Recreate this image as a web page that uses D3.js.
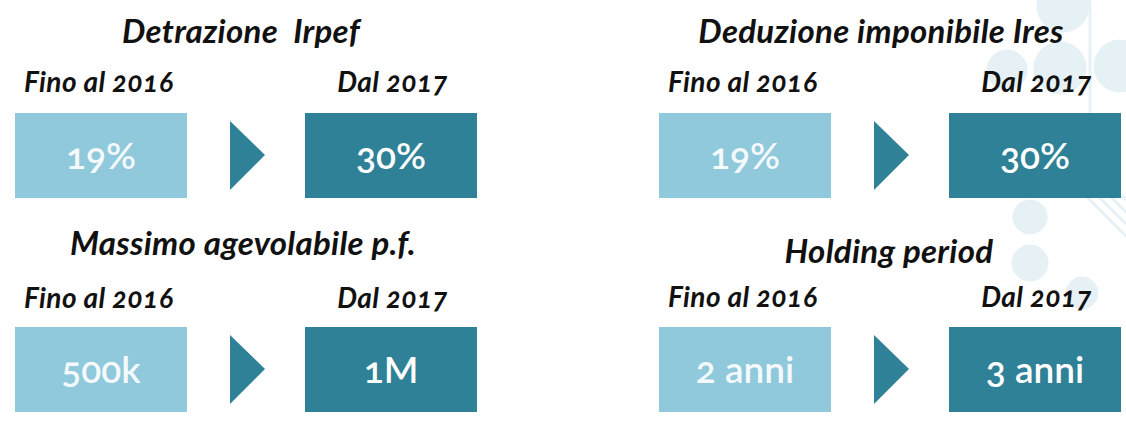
<!DOCTYPE html>
<html>
<head>
<meta charset="utf-8">
<script src="https://cdn.jsdelivr.net/npm/d3@7"></script>
<style>
  body { margin: 0; background: #fff; }
  text { font-family: Lato, "Open Sans", sans-serif; font-feature-settings: "onum" 1; font-variant-numeric: oldstyle-nums; white-space: pre; }
  .title { font-style: italic; font-weight: 700; font-size: 33px; letter-spacing: 0.3px; fill: #111; }
  .lab { font-style: italic; font-weight: 700; font-size: 28px; letter-spacing: 0.4px; fill: #111; }
  .val { font-size: 37px; font-weight: 600; fill: #fff; }
</style>
</head>
<body>
<div id="graph"></div>
<script>
var width = 1126, height = 426;

// data (order: top-left, top-right, bottom-left, bottom-right)
var titles = ["Detrazione  Irpef", "Deduzione imponibile Ires", "Massimo agevolabile p.f.", "Holding period"];
var before = ["19%", "19%", "500k", "2 anni"];
var after = ["30%", "30%", "1M", "3 anni"];
var labBefore = "Fino al 2016", labAfter = "Dal 2017";
var cols = [0, 1, 0, 1], rows = [0, 0, 1, 1];

var light = "#8fc9db", dark = "#2f8198";

var svg = d3.select("#graph").append("svg")
    .attr("width", width)
    .attr("height", height);

// faint background motif on the right
var deco = svg.append("g").attr("fill", "#e6f1f5").attr("stroke", "#e6f1f5");
[[1063, 6, 26], [1007, 70, 20], [1060, 68, 26], [1120, 66, 26], [1030, 217, 17], [1030, 263, 18], [1082, 293, 16]]
  .forEach(function(c) { deco.append("circle").attr("cx", c[0]).attr("cy", c[1]).attr("r", c[2]); });
deco.append("line").attr("x1", 1090).attr("y1", 0).attr("x2", 1090).attr("y2", 170).attr("stroke-width", 3);
[0, 12, 24, 36].forEach(function(o) {
  deco.append("line").attr("x1", 1085 + o).attr("y1", 195).attr("x2", 1126).attr("y2", 236 - o).attr("stroke-width", 3);
});

var bw = 172, bh = 85;
var x = d3.scalePoint().domain([0, 1]).range([15, 659]);
var y = d3.scalePoint().domain([0, 1]).range([113, 327]);
var titleY = [43, 43, 255, 263];
var titleX = [226, 222, 228, 230];
var labY = [92, 92, 308, 307];

var panel = svg.selectAll(".panel")
    .data(titles)
  .enter().append("g")
    .attr("class", "panel")
    .attr("transform", function(d, i) { return "translate(" + x(cols[i]) + ",0)"; });

panel.append("text")
    .attr("class", "title")
    .attr("x", function(d, i) { return titleX[i]; })
    .attr("y", function(d, i) { return titleY[i]; })
    .attr("text-anchor", "middle")
    .text(function(d) { return d; });

panel.append("text")
    .attr("class", "lab")
    .attr("x", 9)
    .attr("y", function(d, i) { return labY[i]; })
    .text(labBefore);

panel.append("text")
    .attr("class", "lab")
    .attr("x", 433)
    .attr("y", function(d, i) { return labY[i]; })
    .attr("text-anchor", "end")
    .text(labAfter);

panel.append("rect")
    .attr("x", 0)
    .attr("y", function(d, i) { return y(rows[i]); })
    .attr("width", bw).attr("height", bh)
    .attr("fill", light);

panel.append("rect")
    .attr("x", 290)
    .attr("y", function(d, i) { return y(rows[i]); })
    .attr("width", bw).attr("height", bh)
    .attr("fill", dark);

panel.append("path")
    .attr("fill", dark)
    .attr("d", function(d, i) {
      var t = y(rows[i]);
      return "M215," + (t + 8) + "L250," + (t + 42) + "L215," + (t + 77) + "Z";
    });

panel.append("text")
    .attr("class", "val")
    .attr("x", bw / 2)
    .attr("y", function(d, i) { return y(rows[i]) + 56; })
    .attr("text-anchor", "middle")
    .attr("fill-opacity", 0.92)
    .text(function(d, i) { return before[i]; });

panel.append("text")
    .attr("class", "val")
    .attr("x", 290 + bw / 2)
    .attr("y", function(d, i) { return y(rows[i]) + 56; })
    .attr("text-anchor", "middle")
    .text(function(d, i) { return after[i]; });
</script>
</body>
</html>
